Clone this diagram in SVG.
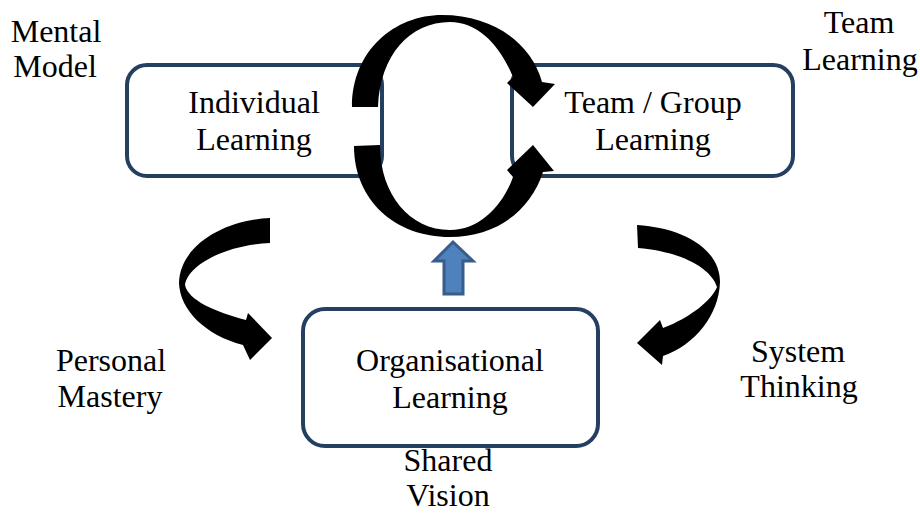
<svg xmlns="http://www.w3.org/2000/svg" width="920" height="514" viewBox="0 0 920 514">
<style>
.box{fill:#ffffff;stroke:#243f60;stroke-width:4}
.t{font-family:'Liberation Serif','Times New Roman',serif;font-size:32px;fill:#000;text-anchor:middle}
.arr{fill:#000;stroke:none}
.up{fill:#4f81bd;stroke:#385d8a;stroke-width:3;stroke-linejoin:miter}
</style>
<rect width="920" height="514" fill="#ffffff"/>
<g id="individual">
<rect class="box" x="127" y="65" width="255" height="111" rx="20"/>
<text class="t" x="254" y="113">Individual</text>
<text class="t" x="254" y="150">Learning</text>
</g>
<g id="team">
<rect class="box" x="512" y="65" width="281" height="111" rx="20"/>
<text class="t" x="653" y="113">Team / Group</text>
<text class="t" x="653" y="150">Learning</text>
</g>
<g id="organisational">
<rect class="box" x="303" y="309" width="295" height="137" rx="22"/>
<text class="t" x="450" y="371">Organisational</text>
<text class="t" x="450" y="408">Learning</text>
</g>
<g id="mental-model">
<text class="t" x="56" y="42">Mental</text>
<text class="t" x="55" y="77">Model</text>
</g>
<g id="team-learning">
<text class="t" x="859" y="33">Team</text>
<text class="t" x="860" y="70">Learning</text>
</g>
<g id="personal-mastery">
<text class="t" x="111" y="371">Personal</text>
<text class="t" x="110" y="407">Mastery</text>
</g>
<g id="system-thinking">
<text class="t" x="798" y="362">System</text>
<text class="t" x="799" y="397">Thinking</text>
</g>
<g id="shared-vision">
<text class="t" x="448" y="471">Shared</text>
<text class="t" x="448" y="506">Vision</text>
</g>
<g id="connectors">
<path class="arr" d="M352,107 C352,50 395,15 442,15 C495,15 532,45 542,82 L555,84 L533,107 L507,83 L513,77 C500,45 478,22 450,22 C410,22 380,55 378,107 Z"/>
<path class="arr" d="M354,146 L380,145 C380,195 410,230 450,230 C480,230 503,205 513,177 L507,170 L533,145 L554,171 L543,172 C530,212 495,237 450,237 C395,237 354,200 354,146 Z"/>
<path class="arr" d="M270,218 C225,220 180,245 179,283 C180,310 205,335 243,345 L250,360 L272,338 L248,313 L246,320 C215,312 188,300 185,285 C188,265 225,245 270,243 Z"/>
<path class="arr" d="M637,225 C685,228 720,250 720,282 C719,315 695,345 663,356 L662,365 L637,343 L660,320 L663,328 C690,318 712,300 717,287 C712,270 685,252 638,248 Z"/>
<path class="up" d="M453,242 L473,261 L463,261 L463,294 L444,294 L444,261 L434,261 Z"/>
</g>
</svg>
